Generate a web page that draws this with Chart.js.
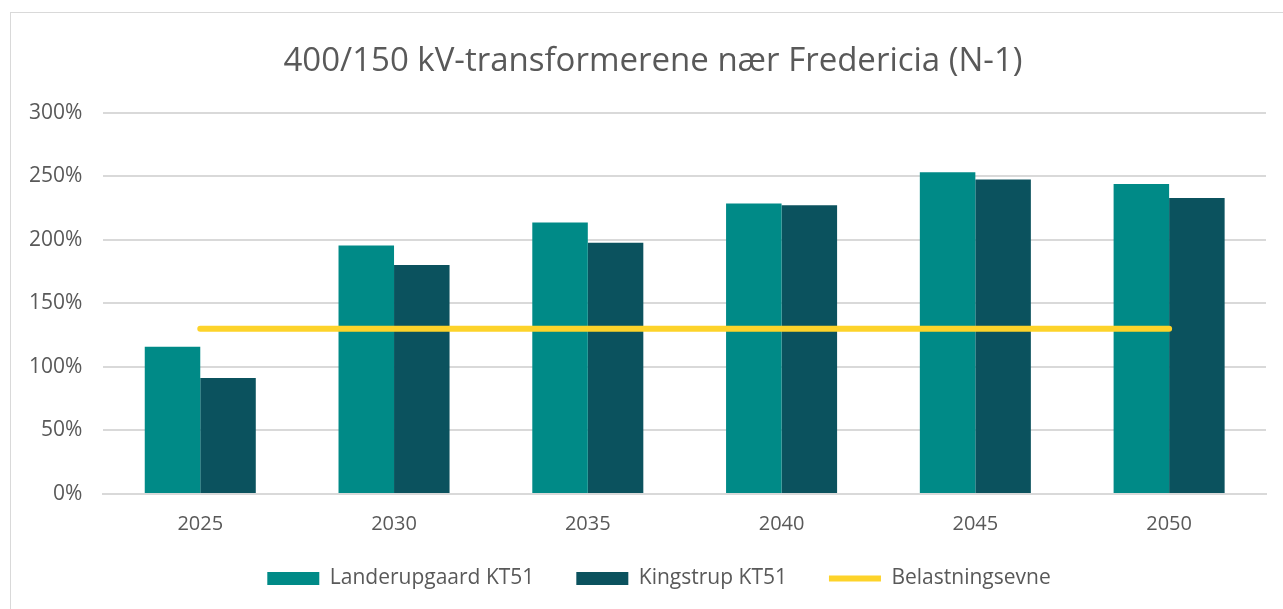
<!DOCTYPE html>
<html>
<head>
<meta charset="utf-8">
<script src="https://cdn.jsdelivr.net/npm/chart.js@4"></script>
<style>
  html, body { margin: 0; padding: 0; background: #fff; }
  #wrap { width: 1283px; height: 609px; }
</style>
</head>
<body>
<div id="wrap"><canvas id="trafo" width="1283" height="609"></canvas></div>
<script>
var years = ['2025', '2030', '2035', '2040', '2045', '2050'];
var landerupgaard = [115.8, 195.5, 213.6, 228.5, 253.1, 243.9];
var kingstrup = [91.2, 180.1, 197.6, 227.1, 247.3, 232.9];
var belastningsevne = [130, 130, 130, 130, 130, 130];
var yTicks = [0, 50, 100, 150, 200, 250, 300];

Chart.defaults.font.family = '"Open Sans", sans-serif';
Chart.defaults.color = '#595959';

// thin grey frame round the chart area, like the office chart border
var frame = {
    id: 'frame',
    beforeDraw: function (chart) {
        var c = chart.ctx;
        c.save();
        c.strokeStyle = '#d9d9d9';
        c.lineWidth = 1;
        c.strokeRect(10.5, 12.5, chart.width + 20, chart.height + 20);
        c.restore();
    }
};

// nudge title and legend: the frame runs past the right edge, so both sit a bit right,
// and the legend hugs the year labels closer than its padding would allow
var nudge = {
    id: 'nudge',
    afterLayout: function (chart) {
        var t = chart.titleBlock, l = chart.legend;
        t.left += 16; t.right += 16;
        l.left += 22; l.right += 22;
        l.top -= 20; l.bottom -= 20;
    }
};

var ctx = document.getElementById('trafo').getContext('2d');
var myChart = new Chart(ctx, {
    data: {
        labels: years,
        datasets: [{
            type: 'bar',
            label: 'Landerupgaard KT51',
            data: landerupgaard,
            backgroundColor: '#008a87',
            borderWidth: 0,
            pointStyle: 'rect',
            order: 2
        }, {
            type: 'bar',
            label: 'Kingstrup KT51',
            data: kingstrup,
            backgroundColor: '#0b525e',
            borderWidth: 0,
            pointStyle: 'rect',
            order: 2
        }, {
            type: 'line',
            label: 'Belastningsevne',
            data: belastningsevne,
            borderColor: '#fdd32a',
            backgroundColor: '#fdd32a',
            borderWidth: 6,
            borderCapStyle: 'round',
            pointRadius: 0,
            pointStyle: 'line',
            order: 1
        }]
    },
    options: {
        responsive: false,
        animation: false,
        layout: { padding: { left: 8, right: 17, top: 42, bottom: -10 } },
        datasets: {
            bar: { categoryPercentage: 0.573, barPercentage: 1 }
        },
        plugins: {
            title: {
                display: true,
                text: '400/150 kV-transformerene nær Fredericia (N-1)',
                color: '#595959',
                font: { size: 33, weight: 'normal' },
                padding: { top: 0, bottom: 31 }
            },
            legend: {
                position: 'bottom',
                labels: {
                    usePointStyle: true,
                    pointStyleWidth: 52,
                    boxHeight: 13,
                    padding: 42,
                    color: '#595959',
                    font: { size: 21 },
                    sort: function (a, b) { return a.datasetIndex - b.datasetIndex; }
                }
            },
            tooltip: { enabled: false }
        },
        scales: {
            x: {
                grid: { display: false },
                border: { color: '#d9d9d9', width: 2 },
                ticks: { font: { size: 20 }, padding: 10 }
            },
            y: {
                min: 0,
                max: 300,
                afterBuildTicks: function (axis) {
                    axis.ticks = yTicks.map(function (v) { return { value: v }; });
                },
                grid: { color: '#d9d9d9', lineWidth: 2, drawTicks: false },
                border: { display: false },
                ticks: {
                    font: { size: 21 },
                    padding: 21,
                    callback: function (v) { return v + '%'; }
                }
            }
        }
    },
    plugins: [frame, nudge]
});
</script>
</body>
</html>
